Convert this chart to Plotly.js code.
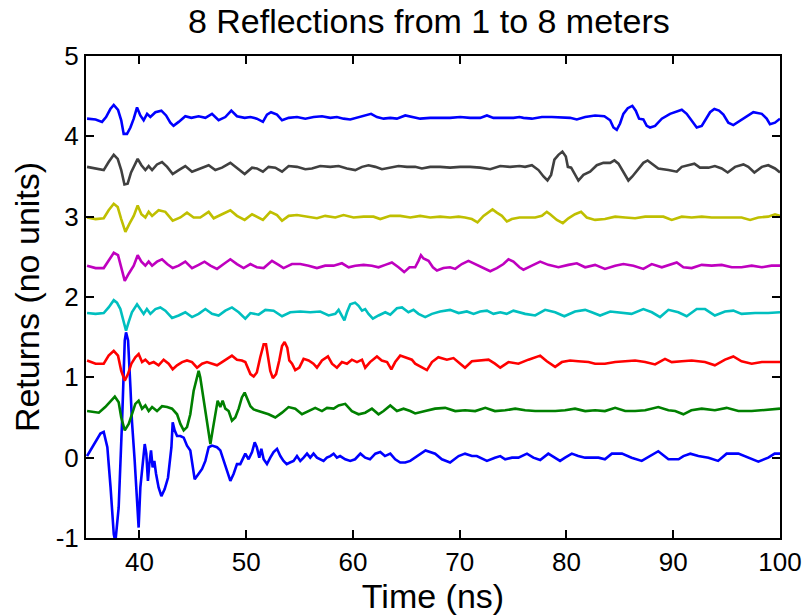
<!DOCTYPE html>
<html>
<head>
<meta charset="utf-8">
<script src="https://cdn.plot.ly/plotly-3.0.1.min.js"></script>
<style>html,body{margin:0;padding:0;background:#fff;}#chart{width:806px;height:615px;}</style>
</head>
<body>
<div id="chart"></div>
<script>
// Reflection 1 (blue, offset 0)
const t1 = [35.1,36.35,36.66,37.0,37.3,37.6,37.75,38.06,38.38,38.63,38.75,38.94,39.16,39.3,39.56,39.78,39.93,40.09,40.3,40.5,40.65,40.8,40.93,41.09,41.24,41.4,41.56,41.8,42.06,42.37,42.68,43.0,43.12,43.3,43.53,43.84,44.15,44.46,44.77,44.93,45.18,45.55,45.87,46.18,46.49,46.8,47.27,47.58,47.89,48.2,48.52,48.83,49.14,49.45,49.76,49.92,50.23,50.55,50.8,51.0,51.23,51.42,51.64,51.95,52.26,52.57,52.89,53.2,53.5,53.8,54.1,54.44,54.76,55.07,55.38,55.7,56.0,56.31,56.63,56.94,57.25,57.56,57.88,58.19,58.5,58.8,59.28,59.75,60.2,60.7,61.15,61.6,62.1,62.56,63.0,63.5,63.96,64.43,64.9,65.37,65.83,66.8,67.7,68.33,69.1,69.9,70.5,71.15,71.6,72.55,73.3,73.8,74.26,74.9,75.5,76.3,76.9,77.54,78.3,78.94,79.4,79.87,80.5,81.1,81.75,82.37,83.0,83.6,84.25,85.2,86.1,87.05,87.83,88.6,89.55,90.5,90.95,91.6,92.35,93.3,94.2,95.0,96.1,97.0,97.97,98.9,99.5,100];
const v1 = [0.02,0.30,0.32,0.13,-0.37,-0.95,-1.05,-0.62,0.46,1.46,1.56,1.46,0.88,0.46,-0.04,-0.57,-0.87,-0.37,-0.04,0.17,0.05,-0.29,-0.08,0.09,-0.12,-0.04,-0.2,-0.37,-0.48,-0.39,-0.25,0.13,0.44,0.34,0.27,0.27,0.25,0.15,0.09,-0.04,-0.27,-0.2,-0.14,-0.04,0.13,0.15,0.13,0.09,-0.04,-0.16,-0.29,-0.2,-0.08,-0.08,0,0.05,-0.02,0.07,0.19,0.13,0,0.11,-0.02,-0.08,0,0.07,0.11,0.02,-0.04,-0.08,-0.06,-0.04,0.02,-0.04,0,0.05,0,0.05,0,-0.02,-0.04,0,0.02,0.05,0,0.02,-0.02,-0.04,-0.02,0.05,0,-0.02,0.05,0.07,0.02,0.05,-0.02,-0.06,-0.06,-0.04,0,0.09,0.05,-0.02,-0.06,0.02,0.05,0.02,0.02,-0.04,0,0.02,-0.02,0,0,0.05,0,-0.03,0.05,0,-0.04,0,0.05,0.02,0,0,0,-0.02,0.05,0.05,0,-0.04,0.02,0.08,-0.02,-0.02,0.02,0.05,0.02,0,-0.04,0.05,0.05,0,-0.05,0,0.05,0.05];

// Reflection 2 (green, offset 0.6)
const t2 = [35.1,36.2,36.8,37.3,37.7,38.06,38.3,38.63,39.0,39.3,39.62,39.93,40.25,40.56,40.87,41.19,41.65,42.12,42.6,43.06,43.53,43.84,44.15,44.46,44.77,45.08,45.4,45.55,45.7,45.93,46.18,46.43,46.65,46.86,47.11,47.33,47.58,47.8,48.05,48.36,48.67,48.98,49.3,49.6,49.86,50.17,50.4,50.7,51.17,51.64,52.1,52.73,53.36,53.97,54.6,55.23,55.85,56.47,57.1,57.57,58.19,58.66,59.28,59.9,60.53,61.15,61.78,62.4,62.87,63.5,64.12,64.74,65.37,65.83,66.77,67.7,68.64,69.58,70.5,71.45,72.4,73.3,74.26,75.2,76.13,77.07,78.0,78.95,79.87,80.8,81.75,82.68,83.6,84.56,85.5,86.43,87.37,88.6,89.55,90.18,90.95,91.7,92.67,93.9,95.0,96.1,97.35,98.6,100];
const v2 = [0.58,0.56,0.63,0.71,0.76,0.69,0.5,0.34,0.42,0.54,0.67,0.71,0.61,0.65,0.58,0.63,0.58,0.64,0.63,0.61,0.54,0.42,0.34,0.38,0.54,0.83,1.02,1.08,1.0,0.79,0.54,0.34,0.17,0.34,0.54,0.71,0.63,0.71,0.61,0.58,0.46,0.5,0.61,0.75,0.81,0.7,0.64,0.6,0.58,0.56,0.54,0.5,0.56,0.63,0.61,0.54,0.58,0.62,0.58,0.62,0.61,0.65,0.67,0.58,0.54,0.56,0.61,0.54,0.58,0.65,0.58,0.61,0.58,0.55,0.58,0.61,0.62,0.58,0.59,0.58,0.62,0.58,0.59,0.61,0.59,0.58,0.58,0.58,0.59,0.61,0.58,0.59,0.58,0.62,0.58,0.58,0.59,0.63,0.59,0.58,0.54,0.59,0.61,0.59,0.62,0.58,0.58,0.59,0.61];

// Reflection 3 (red, offset 1.2)
const t3 = [35.1,35.9,36.66,37.12,37.6,38.0,38.3,38.63,38.93,39.25,39.62,39.93,40.25,40.56,40.93,41.34,41.8,42.27,42.74,43.12,43.53,44.0,44.46,44.93,45.4,45.87,46.33,46.8,47.27,47.74,48.2,48.67,49.14,49.6,49.92,50.4,50.7,51.0,51.32,51.64,51.86,52.05,52.26,52.5,52.8,53.1,53.36,53.6,53.85,54.04,54.3,54.6,54.98,55.38,55.85,56.3,56.63,57.1,57.66,58.04,58.5,58.97,59.44,59.9,60.38,60.85,61.15,61.6,62.25,62.7,63.2,63.6,63.96,64.43,64.9,65.52,65.83,66.46,66.93,67.4,68.0,68.8,69.42,70.05,70.5,71.14,71.76,72.7,73.3,73.8,74.57,75.5,76.44,77.54,78.16,78.94,79.57,80.34,81.1,82.06,82.68,83.6,84.56,85.5,86.43,87.37,88.3,89.23,89.86,90.8,91.73,92.97,93.9,94.85,95.63,96.4,97.35,98.3,99.2,100];
const v3 = [1.21,1.17,1.17,1.27,1.33,1.27,1.08,0.96,1.04,1.17,1.25,1.29,1.19,1.22,1.17,1.19,1.15,1.22,1.17,1.1,1.15,1.19,1.21,1.19,1.12,1.17,1.19,1.17,1.15,1.19,1.23,1.27,1.22,1.21,1.19,1.04,1.01,1.06,1.25,1.41,1.41,1.25,1.08,0.99,1.04,1.21,1.39,1.44,1.37,1.21,1.17,1.09,1.12,1.23,1.21,1.17,1.12,1.21,1.26,1.17,1.12,1.19,1.17,1.22,1.19,1.22,1.12,1.19,1.26,1.21,1.19,1.1,1.19,1.27,1.25,1.22,1.17,1.12,1.09,1.19,1.25,1.22,1.24,1.17,1.12,1.2,1.21,1.22,1.17,1.12,1.19,1.17,1.22,1.27,1.2,1.13,1.19,1.21,1.2,1.19,1.17,1.17,1.19,1.2,1.21,1.19,1.16,1.23,1.19,1.2,1.21,1.19,1.15,1.22,1.26,1.2,1.17,1.19,1.19,1.19];

// Reflection 4 (cyan, offset 1.8)
const t4 = [35.1,35.9,36.66,37.12,37.6,37.9,38.22,38.53,38.75,39.0,39.3,39.78,40.1,40.4,40.7,41.03,41.5,41.96,42.43,43.06,43.68,44.3,44.93,45.55,46.18,46.8,47.42,48.05,48.67,49.3,49.92,50.4,51.17,51.8,52.57,53.36,54.13,55.07,56.0,56.94,57.72,58.35,58.66,58.97,59.2,59.44,59.75,60.2,60.53,60.85,61.15,61.46,61.87,62.4,63.03,63.5,64.12,64.6,65.2,65.67,66.14,66.77,67.4,68.17,69.1,69.9,70.67,71.3,71.92,72.55,73.16,73.8,74.4,75.03,75.66,76.13,77.07,78.0,78.94,79.8,80.8,81.75,82.37,83.15,84.1,85.02,86.1,87.2,88.0,88.77,89.55,90.48,91.26,92.2,92.98,93.9,94.85,95.63,96.4,97.66,98.9,100];
const v4 = [1.8,1.79,1.8,1.87,1.96,1.93,1.85,1.67,1.58,1.69,1.81,1.91,1.85,1.79,1.85,1.79,1.85,1.87,1.83,1.74,1.77,1.81,1.75,1.79,1.85,1.79,1.77,1.83,1.87,1.81,1.73,1.8,1.78,1.84,1.83,1.76,1.81,1.82,1.81,1.82,1.77,1.79,1.84,1.77,1.71,1.81,1.91,1.93,1.89,1.83,1.85,1.79,1.73,1.77,1.81,1.78,1.86,1.87,1.81,1.84,1.79,1.75,1.79,1.82,1.84,1.8,1.82,1.79,1.82,1.83,1.79,1.81,1.79,1.83,1.81,1.79,1.77,1.84,1.81,1.76,1.82,1.84,1.81,1.77,1.82,1.81,1.79,1.85,1.81,1.75,1.84,1.81,1.76,1.85,1.85,1.77,1.82,1.83,1.79,1.8,1.8,1.81];

// Reflection 5 (magenta, offset 2.4)
const t5 = [35.1,35.9,36.66,37.12,37.6,38.0,38.3,38.63,39.0,39.47,39.84,40.19,40.56,40.87,41.19,41.65,42.12,42.6,43.12,43.68,44.3,44.93,45.55,46.1,46.65,47.27,47.9,48.52,49.14,49.76,50.4,51.0,51.64,52.42,53.04,53.5,54.29,55.07,55.85,56.63,57.4,58.19,58.97,59.6,60.22,61.0,61.78,62.4,63.03,63.65,64.27,64.8,65.3,65.83,66.14,66.37,66.61,67.08,67.49,67.87,68.48,69.1,69.58,70.2,70.82,71.45,72.23,72.86,73.48,74.1,74.57,75.03,75.6,75.97,76.76,77.54,78.3,79.25,80.18,80.97,81.75,82.68,83.6,84.56,85.33,86.27,87.2,87.99,88.93,89.55,90.33,90.95,91.73,92.67,93.6,94.54,95.48,96.4,97.35,98.3,99.2,100];
const v5 = [2.39,2.36,2.36,2.45,2.55,2.52,2.35,2.2,2.29,2.39,2.52,2.44,2.39,2.44,2.39,2.44,2.47,2.41,2.36,2.39,2.44,2.36,2.4,2.44,2.39,2.35,2.41,2.47,2.41,2.36,2.41,2.37,2.36,2.45,2.4,2.36,2.41,2.41,2.39,2.36,2.39,2.39,2.42,2.37,2.39,2.4,2.39,2.37,2.4,2.43,2.37,2.31,2.37,2.37,2.45,2.52,2.48,2.45,2.37,2.33,2.36,2.37,2.35,2.41,2.45,2.41,2.36,2.32,2.36,2.41,2.47,2.44,2.37,2.34,2.39,2.44,2.4,2.37,2.4,2.42,2.37,2.4,2.35,2.39,2.41,2.39,2.35,2.41,2.37,2.4,2.43,2.37,2.36,2.4,2.39,2.4,2.37,2.37,2.39,2.37,2.39,2.39];

// Reflection 6 (yellow, offset 3.0)
const t6 = [35.1,35.9,36.66,37.12,37.6,37.97,38.3,38.69,39.06,39.47,39.84,40.19,40.56,40.87,41.19,41.8,42.43,43.12,43.84,44.46,45.08,45.7,46.49,46.96,47.74,48.52,49.14,49.86,50.55,51.0,51.57,52.26,52.89,53.36,53.98,54.76,55.7,56.63,57.4,58.35,59.12,60.06,61.0,61.93,62.56,63.5,64.43,65.37,66.3,67.24,68.17,69.1,69.9,70.5,71.14,71.67,72.23,72.7,73.07,73.48,73.95,74.42,74.88,75.6,76.13,77.07,77.7,78.16,78.47,79.1,79.66,80.18,80.8,81.37,81.9,82.68,83.6,84.56,85.5,86.43,87.37,88.3,89.08,89.86,90.8,91.73,92.67,93.6,94.54,95.48,96.4,97.2,97.97,98.9,99.53,100];
const v6 = [2.99,2.97,2.98,3.08,3.16,3.12,2.97,2.81,2.91,3.01,3.14,3.03,2.99,3.06,3.01,3.08,3.06,2.95,2.99,3.05,2.99,2.99,3.06,2.98,3.03,3.08,3.01,2.96,3.03,3.0,2.96,3.06,3.02,2.95,3.01,3.02,3.0,2.98,3.01,2.99,3.02,2.99,3.0,3.0,2.97,3.01,3.01,2.99,3.01,2.99,3.0,2.99,3.0,2.99,2.97,2.93,3.01,3.06,3.09,3.05,3.01,2.94,2.97,2.99,2.99,2.99,3.01,3.06,3.03,2.96,2.92,2.98,3.03,3.06,2.99,2.96,2.97,3.0,2.99,2.98,3.0,3.0,3.0,2.96,3.0,2.99,3.0,2.99,2.99,2.99,2.99,2.96,2.99,3.0,3.03,3.01];

// Reflection 7 (dark grey, offset 3.6)
const t7 = [35.1,35.9,36.66,37.12,37.6,37.97,38.3,38.6,38.9,39.22,39.56,39.84,40.19,40.56,40.87,41.19,41.65,42.12,42.6,43.12,43.68,44.3,44.93,45.7,46.49,47.11,47.74,48.52,49.14,49.86,50.55,51.0,51.57,52.1,52.73,53.36,53.98,54.76,55.54,56.16,56.94,57.88,58.66,59.44,60.22,60.85,61.46,62.1,62.72,63.5,64.27,65.06,65.83,66.46,67.24,68.17,69.1,70.05,70.98,71.92,72.86,73.8,74.73,75.6,76.13,76.76,77.38,77.85,78.22,78.56,78.87,79.25,79.62,79.94,80.13,80.44,80.75,81.12,81.59,82.21,82.84,83.46,84.09,84.49,84.87,85.33,85.8,86.17,86.73,87.2,87.6,88.05,88.6,89.55,90.33,90.8,91.41,91.98,92.5,93.3,93.9,94.54,95.1,95.79,96.57,97.03,97.6,98.3,98.9,99.53,100];
const v7 = [3.62,3.6,3.58,3.68,3.77,3.72,3.58,3.4,3.41,3.55,3.64,3.72,3.64,3.58,3.63,3.58,3.65,3.68,3.62,3.53,3.58,3.63,3.56,3.6,3.64,3.58,3.61,3.67,3.61,3.53,3.61,3.6,3.56,3.62,3.61,3.56,3.63,3.62,3.59,3.6,3.63,3.62,3.63,3.6,3.58,3.62,3.64,3.62,3.59,3.61,3.63,3.62,3.62,3.6,3.62,3.62,3.61,3.62,3.62,3.61,3.59,3.63,3.62,3.63,3.62,3.64,3.58,3.5,3.45,3.52,3.71,3.77,3.81,3.75,3.62,3.61,3.53,3.45,3.52,3.56,3.64,3.67,3.67,3.7,3.66,3.55,3.45,3.5,3.6,3.67,3.7,3.66,3.6,3.58,3.56,3.62,3.64,3.66,3.61,3.61,3.63,3.6,3.55,3.62,3.65,3.62,3.55,3.62,3.64,3.6,3.55];

// Reflection 8 (blue, offset 4.2)
const t8 = [35.1,35.9,36.5,36.88,37.28,37.6,38.0,38.3,38.53,38.84,39.16,39.47,39.78,40.09,40.4,40.72,41.03,41.5,42.06,42.5,42.9,43.2,43.68,44.3,44.87,45.55,46.18,46.8,47.42,48.05,48.61,49.14,49.86,50.4,51.0,51.57,51.95,52.33,52.89,53.36,53.98,54.76,55.54,56.32,57.1,57.88,58.5,59.12,59.75,60.38,61.15,61.7,62.25,62.87,63.5,64.12,64.9,65.52,66.3,67.24,68.17,69.1,70.05,70.98,71.92,72.55,73.16,74.1,75.03,75.6,75.97,76.76,77.7,78.63,79.57,80.34,80.97,81.75,82.68,83.55,84.09,84.4,84.71,85.02,85.33,85.74,86.17,86.49,86.8,87.2,87.52,87.83,88.3,88.93,89.7,90.18,90.8,91.26,91.73,92.2,92.67,93.14,93.45,93.85,94.29,94.7,95.16,95.63,96.1,96.72,97.5,98.3,98.75,99.06,99.53,100];
const v8 = [4.22,4.21,4.18,4.24,4.34,4.39,4.33,4.2,4.03,4.03,4.11,4.22,4.36,4.26,4.2,4.28,4.24,4.3,4.32,4.26,4.17,4.13,4.18,4.25,4.23,4.25,4.23,4.28,4.2,4.24,4.32,4.25,4.23,4.24,4.22,4.18,4.27,4.3,4.27,4.2,4.23,4.24,4.22,4.24,4.25,4.23,4.24,4.22,4.21,4.23,4.26,4.28,4.24,4.22,4.23,4.22,4.26,4.24,4.22,4.23,4.23,4.23,4.24,4.23,4.23,4.26,4.23,4.23,4.23,4.24,4.23,4.22,4.24,4.24,4.23,4.23,4.21,4.24,4.26,4.25,4.2,4.11,4.08,4.16,4.28,4.35,4.38,4.32,4.22,4.21,4.13,4.11,4.13,4.22,4.28,4.3,4.33,4.28,4.2,4.11,4.13,4.24,4.3,4.34,4.32,4.27,4.17,4.14,4.18,4.24,4.3,4.28,4.22,4.15,4.17,4.22];

const times = [t1, t2, t3, t4, t5, t6, t7, t8];
const vals = [v1, v2, v3, v4, v5, v6, v7, v8];
const colors = ['#0000ff', '#008000', '#ff0000', '#00bfbf', '#bf00bf', '#bfbf00', '#404040', '#0000ff'];

const traces = times.map((t, i) => ({
  x: t, y: vals[i], type: 'scatter', mode: 'lines',
  line: {color: colors[i], width: 2.6}, hoverinfo: 'skip'
}));

const xTicks = [40, 50, 60, 70, 80, 90, 100];
const yTicks = [-1, 0, 1, 2, 3, 4, 5];
const FONT = 'Liberation Sans, Arial, Helvetica, sans-serif';

const axisCommon = {
  showgrid: false, zeroline: false, showline: true, linecolor: '#000', linewidth: 2,
  mirror: 'ticks', ticks: 'inside', ticklen: 8, tickwidth: 2, tickcolor: '#000',
  tickfont: {family: FONT, size: 26, color: '#000'}, tickmode: 'array'
};

const layout = {
  width: 806, height: 615,
  margin: {l: 86, r: 26, t: 56, b: 77},
  paper_bgcolor: '#fff', plot_bgcolor: '#fff',
  showlegend: false,
  font: {family: FONT, color: '#000'},
  title: {text: '8 Reflections from 1 to 8 meters', font: {family: FONT, size: 34, color: '#000'},
          x: 0.494, xref: 'paper', xanchor: 'center', y: 0.966, yanchor: 'middle', yref: 'container'},
  xaxis: Object.assign({}, axisCommon, {
    range: [35, 100], tickvals: xTicks, ticktext: xTicks.map(String),
    title: {text: 'Time (ns)', font: {family: FONT, size: 34, color: '#000'}, standoff: 0}
  }),
  yaxis: Object.assign({}, axisCommon, {
    range: [-1, 5], tickvals: yTicks, ticktext: yTicks.map(String),
    title: {text: 'Returns (no units)', font: {family: FONT, size: 34, color: '#000'}, standoff: 6}
  })
};

Plotly.newPlot('chart', traces, layout, {displayModeBar: false, staticPlot: true});
</script>
</body>
</html>
